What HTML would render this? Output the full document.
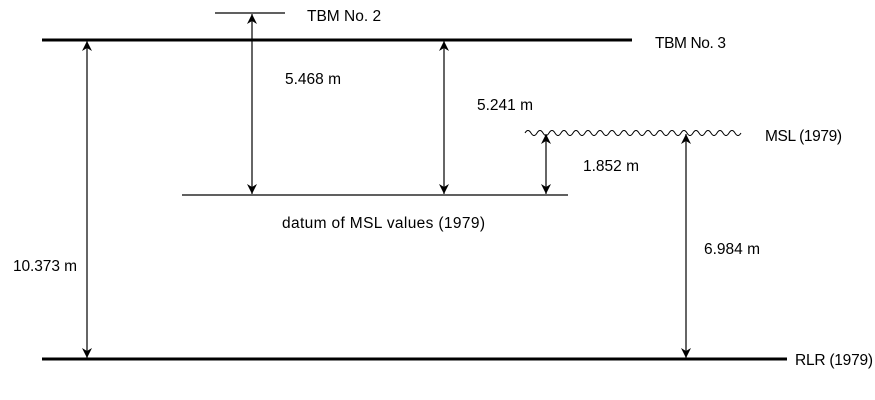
<!DOCTYPE html>
<html><head><style>body{margin:0;background:#fff}svg{display:block}text{font-family:"Liberation Sans",sans-serif;font-size:15.5px;fill:#000}</style></head>
<body>
<svg width="875" height="400" viewBox="0 0 875 400">
<defs>
<marker id="a" viewBox="0 0 10 10" refX="10" refY="5" markerWidth="10" markerHeight="10" markerUnits="userSpaceOnUse" orient="auto-start-reverse">
<path d="M0,0 L10,5 L0,10 L3,5 Z" fill="#000"/></marker>
</defs>
<g stroke="#000">
<line x1="42" y1="40" x2="632" y2="40" stroke-width="3"/>
<line x1="42" y1="359" x2="787" y2="359" stroke-width="3"/>
<line x1="215" y1="13" x2="285" y2="13" stroke-width="1.3"/>
<line x1="182" y1="195" x2="568" y2="195" stroke-width="1.3"/>
<path d="M525,133 q3,-5 6,0 t6,0 t6,0 t6,0 t6,0 t6,0 t6,0 t6,0 t6,0 t6,0 t6,0 t6,0 t6,0 t6,0 t6,0 t6,0 t6,0 t6,0 t6,0 t6,0 t6,0 t6,0 t6,0 t6,0 t6,0 t6,0 t6,0 t6,0 t6,0 t6,0 t6,0 t6,0 t6,0 t6,0 t6,0 t6,0" fill="none" stroke-width="1"/>
<g stroke-width="1.2" marker-start="url(#a)" marker-end="url(#a)">
<line x1="87" y1="41" x2="87" y2="358"/>
<line x1="252" y1="14" x2="252" y2="194"/>
<line x1="444" y1="41" x2="444" y2="194"/>
<line x1="546" y1="134" x2="546" y2="194"/>
<line x1="686" y1="134" x2="686" y2="358"/>
</g>
</g>
<text x="307" y="21">TBM No. 2</text>
<text x="655" y="48" textLength="71">TBM No. 3</text>
<text x="285" y="84">5.468 m</text>
<text x="477" y="110">5.241 m</text>
<text x="765" y="141" textLength="77">MSL (1979)</text>
<text x="583" y="171">1.852 m</text>
<text x="282" y="228" textLength="203">datum of MSL values (1979)</text>
<text x="704" y="254">6.984 m</text>
<text x="13" y="271" textLength="64">10.373 m</text>
<text x="795" y="365" textLength="78">RLR (1979)</text>
</svg>
</body></html>
